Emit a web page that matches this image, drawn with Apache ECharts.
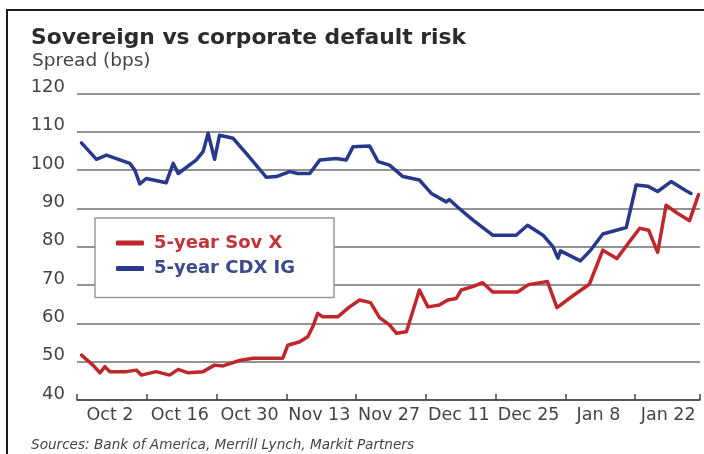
<!DOCTYPE html>
<html>
<head>
<meta charset="utf-8">
<script src="https://cdn.jsdelivr.net/npm/echarts@6/dist/echarts.min.js"></script>
<style>html,body{margin:0;padding:0;background:#fff;}#c{width:704px;height:454px;}</style>
</head>
<body>
<div id="c"></div>
<script>
// x values are calendar days after Oct 2
const tickLabels = ['Oct 2','Oct 16','Oct 30','Nov 13','Nov 27','Dec 11','Dec 25','Jan 8','Jan 22'];
const yTicks = [40, 50, 60, 70, 80, 90, 100, 110, 120];

const sovDays = [0.9,3.2,4.6,5.6,6.6,9.9,11.9,12.9,15.9,18.6,20.3,22.3,25.3,27.6,29.3,32.6,35.3,41.3,42.3,44.7,46.3,47.3,48.3,49.3,52.3,54.7,56.7,58.9,60.7,62.7,64.1,66.1,68.7,70.4,72.7,74.4,76.1,77.1,79.4,81.4,83.4,88.4,90.6,94.4,96.3,99.5,102.8,105.5,108.3,112.9,114.7,116.5,118.2,120.4,122.9,124.7];
const sovValues = [51.7,49.1,47.1,48.7,47.4,47.4,47.8,46.5,47.4,46.5,48.0,47.1,47.4,49.1,48.9,50.3,50.9,50.9,54.3,55.2,56.5,59.1,62.6,61.7,61.7,64.3,66.1,65.4,61.5,59.6,57.4,57.8,68.7,64.3,64.8,66.1,66.5,68.7,69.6,70.6,68.2,68.2,70.1,70.9,64.1,67.2,70.2,79.1,76.9,84.8,84.3,78.5,90.8,88.8,86.8,93.6];

const cdxDays = [0.9,3.9,5.9,10.6,11.6,12.6,13.9,17.9,19.3,20.3,23.9,25.3,26.3,27.6,28.6,31.3,34.0,38.0,40.0,42.7,44.3,46.7,48.7,52.0,54.0,55.4,58.7,60.4,62.7,65.4,68.7,71.1,74.1,74.7,76.4,79.4,83.4,88.1,90.4,93.5,95.5,96.5,97.0,101.0,103.0,105.5,110.2,112.2,114.5,116.5,119.2,122.2,123.2];
const cdxValues = [107.1,102.8,103.9,101.75,100,96.4,97.8,96.7,101.75,99.1,102.6,104.8,109.6,102.8,109.1,108.3,104.3,98.1,98.3,99.6,99.1,99.1,102.6,103.0,102.6,106.1,106.3,102.2,101.3,98.3,97.4,93.9,91.7,92.3,90.3,87.0,83.0,83.0,85.6,83.0,80.0,77.0,78.9,76.3,79.0,83.3,85.0,96.1,95.8,94.4,97.0,94.6,93.9];

const seriesNames = ['5-year Sov X', '5-year CDX IG'];
const RED = '#c0272d';
const BLUE = '#28388c';
const FONT = 'DejaVu Sans';

function zip(xs, ys) { return xs.map((x, i) => [x, ys[i]]); }

const chart = echarts.init(document.getElementById('c'), null, {renderer: 'canvas'});
chart.setOption({
  animation: false,
  backgroundColor: '#fff',
  title: [
    {text: 'Sovereign vs corporate default risk', left: 26, top: 22,
     textStyle: {fontFamily: FONT, fontWeight: 'bold', fontSize: 21.8, color: '#2b2b2b'}},
    {text: 'Spread (bps)', left: 27, top: 47,
     textStyle: {fontFamily: FONT, fontWeight: 'normal', fontSize: 18.5, color: '#444'}},
    {text: 'Sources: Bank of America, Merrill Lynch, Markit Partners', left: 26, top: 433,
     textStyle: {fontFamily: FONT, fontWeight: 'normal', fontStyle: 'italic', fontSize: 13.6, color: '#444'}}
  ],
  graphic: [
    {type: 'rect', shape: {x: 7, y: 10, width: 760, height: 500}, style: {fill: 'none', stroke: '#1a1a1a', lineWidth: 2}, silent: true}
  ],
  grid: {left: 77, right: 4, top: 93.4, bottom: 54, containLabel: false},
  legend: {
    orient: 'vertical',
    left: 95, top: 218,
    backgroundColor: '#fff',
    borderColor: '#9a9a9a', borderWidth: 1.5,
    padding: [15, 39, 19, 21],
    itemGap: 5.6,
    itemWidth: 28, itemHeight: 5,
    icon: 'roundRect',
    textStyle: {fontFamily: FONT, fontWeight: 'bold', fontSize: 18, lineHeight: 20, padding: [0, 0, 0, 5]},
    data: [
      {name: seriesNames[0], textStyle: {color: '#c3333a'}},
      {name: seriesNames[1], textStyle: {color: '#3b4a8c'}}
    ]
  },
  xAxis: {
    type: 'value', min: 0, max: 125, interval: 14,
    axisLine: {show: true, lineStyle: {color: '#444', width: 1.5}},
    axisTick: {show: true, inside: true, length: 6, lineStyle: {color: '#444', width: 1.5}},
    splitLine: {show: false},
    axisLabel: {
      align: 'center', margin: 6, padding: [0, 0, 0, 66],
      fontFamily: FONT, fontSize: 17.5, color: '#444',
      formatter: function (v) {
        const k = Math.round(v / 14);
        if (Math.abs(v - k * 14) < 1e-6 && k < tickLabels.length) return tickLabels[k];
        return '';
      }
    }
  },
  yAxis: {
    type: 'value', min: yTicks[0], max: yTicks[yTicks.length - 1], interval: 10,
    axisLine: {show: false}, axisTick: {show: false},
    splitLine: {show: true, lineStyle: {color: '#6f6f6f', width: 1.6}},
    axisLabel: {
      fontFamily: FONT, fontSize: 18, color: '#444', margin: 12,
      verticalAlign: 'bottom', lineHeight: 12,
      formatter: function (v) { return yTicks.indexOf(v) >= 0 ? String(v) : ''; }
    }
  },
  series: [
    {name: seriesNames[0], type: 'line', data: zip(sovDays, sovValues), showSymbol: false, color: RED,
     lineStyle: {color: RED, width: 3.5, join: 'round', cap: 'round'}, z: 3},
    {name: seriesNames[1], type: 'line', data: zip(cdxDays, cdxValues), showSymbol: false, color: BLUE,
     lineStyle: {color: BLUE, width: 3.5, join: 'round', cap: 'round'}, z: 3}
  ]
});
</script>
</body>
</html>
